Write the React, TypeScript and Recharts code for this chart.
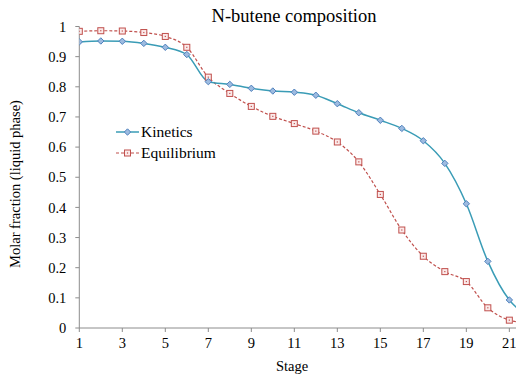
import { LineChart, Line, XAxis, YAxis } from 'recharts';

const stages = [1, 2, 3, 4, 5, 6, 7, 8, 9, 10, 11, 12, 13, 14, 15, 16, 17, 18, 19, 20, 21, 22];
const kinetics = [0.949, 0.952, 0.951, 0.944, 0.931, 0.907, 0.817, 0.808, 0.795, 0.786, 0.782, 0.772, 0.744, 0.714, 0.689, 0.662, 0.621, 0.546, 0.412, 0.221, 0.093, 0.04];
const equilibrium = [0.984, 0.986, 0.985, 0.98, 0.967, 0.931, 0.832, 0.778, 0.735, 0.702, 0.678, 0.653, 0.617, 0.551, 0.443, 0.325, 0.238, 0.187, 0.154, 0.067, 0.026, 0.015];
const xTicks = [1, 3, 5, 7, 9, 11, 13, 15, 17, 19, 21];
const yTicks = [0, 0.1, 0.2, 0.3, 0.4, 0.5, 0.6, 0.7, 0.8, 0.9, 1];

const data = stages.map((s, i) => ({ stage: s, kinetics: kinetics[i], equilibrium: equilibrium[i] }));

const FONT = '"Liberation Serif", "DejaVu Serif", serif';
const KIN_LINE = '#3a9cb6';
const KIN_MARK = '#4f81bd';
const EQ = '#c0504d';
const AXIS = '#8c8c8c';

const Diamond = (props: any) => {
  const { cx, cy } = props;
  if (cx == null || cy == null) return null;
  const r = 3.2;
  return (
    <polygon
      points={`${cx},${cy - r} ${cx + r},${cy} ${cx},${cy + r} ${cx - r},${cy}`}
      fill="#9dbbe0"
      stroke={KIN_MARK}
      strokeWidth={1}
    />
  );
};

const Square = (props: any) => {
  const { cx, cy } = props;
  if (cx == null || cy == null) return null;
  return (
    <g>
      <rect x={cx - 3} y={cy - 3} width={6} height={6} fill="#fbeaea" stroke={EQ} strokeWidth={1} />
      <rect x={cx - 0.6} y={cy - 0.6} width={1.2} height={1.2} fill={EQ} />
    </g>
  );
};

// legend sits inside the plot area, left side
const LegendBox = () => (
  <svg width={130} height={50} style={{ position: 'absolute', left: 110, top: 120, fontFamily: FONT }}>
    <line x1={6} y1={12} x2={29} y2={12} stroke={KIN_LINE} strokeWidth={1.5} />
    <Diamond cx={17.5} cy={12} />
    <text x={31} y={17} fill="#000" style={{ fontFamily: FONT, fontSize: 15.5 }}>Kinetics</text>
    <line x1={6} y1={33} x2={29} y2={33} stroke={EQ} strokeWidth={1.2} strokeDasharray="3 2" />
    <Square cx={17.5} cy={33} />
    <text x={31} y={38} fill="#000" style={{ fontFamily: FONT, fontSize: 15.5 }}>Equilibrium</text>
  </svg>
);

const tickStyle = { fontSize: 14.5, fill: '#000', style: { fontFamily: FONT } };

export default function App() {
  return (
    <div style={{ position: 'absolute', left: 0, top: 0, width: 516, height: 376, background: '#fff', fontFamily: FONT, overflow: 'hidden' }}>
      <LineChart width={516} height={376} data={data} margin={{ top: 26.5, right: 0, bottom: 0, left: 0 }} style={{ fontFamily: FONT }}>
        <XAxis
          dataKey="stage"
          type="number"
          domain={[1, 21.31]}
          allowDataOverflow
          ticks={xTicks}
          height={48}
          tickSize={4}
          tickMargin={6}
          stroke={AXIS}
          tick={tickStyle}
          interval={0}
        />
        <YAxis
          domain={[0, 1]}
          ticks={yTicks}
          width={79.3}
          tickSize={4}
          tickMargin={9}
          stroke={AXIS}
          tick={tickStyle}
          interval={0}
        />
        <Line
          type="monotone"
          dataKey="equilibrium"
          stroke={EQ}
          strokeWidth={1.2}
          strokeDasharray="3 2"
          dot={<Square />}
          isAnimationActive={false}
        />
        <Line
          type="monotone"
          dataKey="kinetics"
          stroke={KIN_LINE}
          strokeWidth={1.5}
          dot={<Diamond />}
          isAnimationActive={false}
        />
      </LineChart>
      <LegendBox />
      {/* first title line is cut off at the top in the original */}
      <div style={{ position: 'absolute', right: 196, top: -23, fontSize: 18.5, whiteSpace: 'nowrap', lineHeight: '24px', fontFamily: FONT }}>
        Molar fraction (liquid phase),
      </div>
      <div style={{ position: 'absolute', left: 0, width: 588, textAlign: 'center', top: 4, fontSize: 18.5, lineHeight: '24px', fontFamily: FONT }}>
        N-butene composition
      </div>
      <div
        style={{
          position: 'absolute',
          left: 15,
          top: 184,
          fontSize: 14.5,
          whiteSpace: 'nowrap',
          fontFamily: FONT,
          transform: 'translate(-50%, -50%) rotate(-90deg)',
        }}
      >
        Molar fraction (liquid phase)
      </div>
      <div style={{ position: 'absolute', left: 292, top: 357, transform: 'translateX(-50%)', fontSize: 14.5, lineHeight: '18px', fontFamily: FONT }}>
        Stage
      </div>
    </div>
  );
}
